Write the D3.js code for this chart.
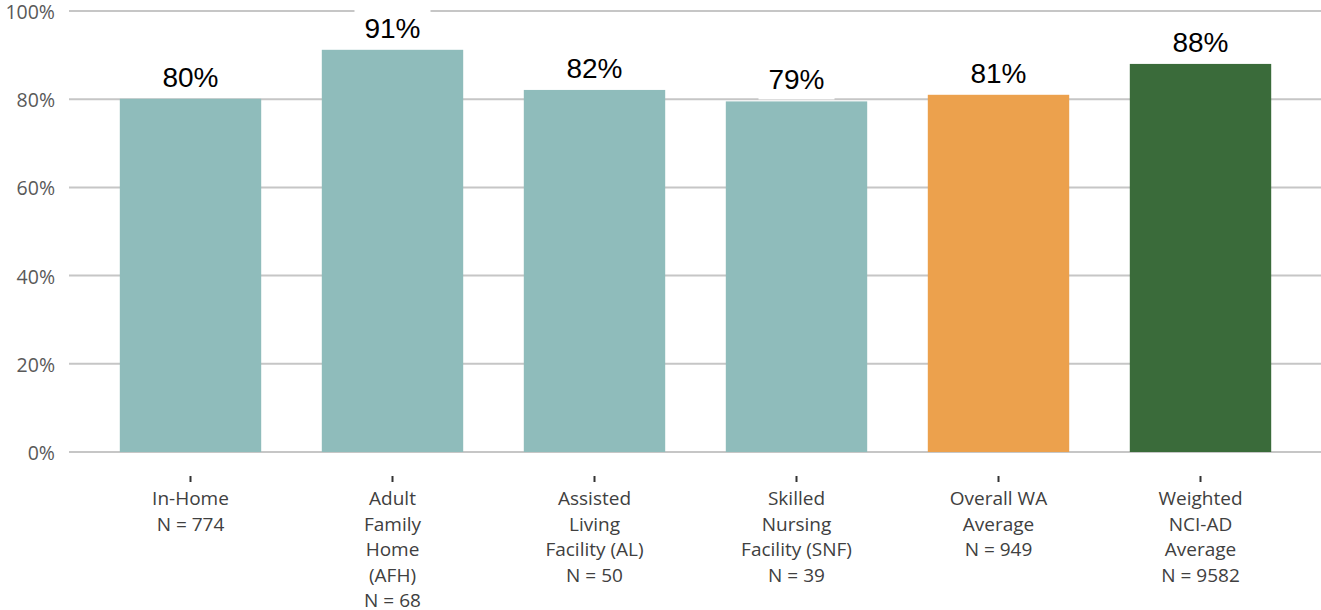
<!DOCTYPE html>
<html>
<head>
<meta charset="utf-8">
<script src="https://cdn.jsdelivr.net/npm/d3@7"></script>
<style>
  body { margin: 0; background: #fff; }
</style>
</head>
<body>
<script>
// chart data
const categories = ['In-Home', 'AFH', 'AL', 'SNF', 'WA', 'NCI']
const labelLines = [
    ['In-Home', 'N = 774'],
    ['Adult', 'Family', 'Home', '(AFH)', 'N = 68'],
    ['Assisted', 'Living', 'Facility (AL)', 'N = 50'],
    ['Skilled', 'Nursing', 'Facility (SNF)', 'N = 39'],
    ['Overall WA', 'Average', 'N = 949'],
    ['Weighted', 'NCI-AD', 'Average', 'N = 9582']
]
const values = [80.1, 91.2, 82.1, 79.5, 81.0, 88.0]
const valueLabels = ['80%', '91%', '82%', '79%', '81%', '88%']
const groups = ['setting', 'setting', 'setting', 'setting', 'state', 'national']
const yTicks = [0, 20, 40, 60, 80, 100]

const m = { width: 1321, height: 610 }

const svg = d3.select('body').append('svg')
    .attr('width', m.width)
    .attr('height', m.height)

const xScale = d3.scaleBand()
    .domain(categories)
    .range([89.5, 1301.5])
    .paddingInner(0.3)
    .paddingOuter(0.15)

const yScale = d3.scaleLinear()
    .domain([0, 100])
    .range([452, 11])

const color = d3.scaleOrdinal()
    .domain(['setting', 'state', 'national'])
    .range(['#8fbcbb', '#eca14d', '#3a6b3a'])

// gridlines + y labels
const yAxis = svg.append('g')
yAxis.selectAll('line')
    .data(yTicks)
    .enter()
    .append('line')
    .attr('x1', 69)
    .attr('x2', m.width)
    .attr('y1', d => yScale(d))
    .attr('y2', d => yScale(d))
    .attr('stroke', '#c6c6c6')
    .attr('stroke-width', 2)

yAxis.selectAll('text')
    .data(yTicks)
    .enter()
    .append('text')
    .attr('x', 55)
    .attr('y', d => yScale(d) + 8)
    .attr('text-anchor', 'end')
    .attr('font-family', 'Open Sans, sans-serif')
    .attr('font-size', 19.5)
    .attr('fill', '#595959')
    .text(d => d + '%')

const data = categories.map((c, i) => ({
    key: c, value: values[i], label: valueLabels[i], group: groups[i], lines: labelLines[i]
}))

// white boxes behind the value labels (they cut the gridlines)
svg.append('g').selectAll('rect')
    .data(data)
    .enter()
    .append('rect')
    .attr('x', d => xScale(d.key) + xScale.bandwidth() / 2 - 38)
    .attr('y', d => yScale(d.value) - 12 - 29)
    .attr('width', 76)
    .attr('height', 39)
    .attr('fill', '#fff')

// bars
svg.append('g').selectAll('rect')
    .data(data)
    .enter()
    .append('rect')
    .attr('x', d => xScale(d.key))
    .attr('y', d => yScale(d.value))
    .attr('width', xScale.bandwidth())
    .attr('height', d => yScale(0) - yScale(d.value))
    .attr('fill', d => color(d.group))

// value labels
svg.append('g').selectAll('text')
    .data(data)
    .enter()
    .append('text')
    .attr('x', d => xScale(d.key) + xScale.bandwidth() / 2)
    .attr('y', d => yScale(d.value) - 12)
    .attr('text-anchor', 'middle')
    .attr('font-family', 'Liberation Sans, Arial, sans-serif')
    .attr('font-size', 28)
    .attr('fill', '#000')
    .text(d => d.label)

// x ticks and category labels
const xAxis = svg.append('g')
xAxis.selectAll('line')
    .data(data)
    .enter()
    .append('line')
    .attr('x1', d => xScale(d.key) + xScale.bandwidth() / 2)
    .attr('x2', d => xScale(d.key) + xScale.bandwidth() / 2)
    .attr('y1', 476)
    .attr('y2', 482)
    .attr('stroke', '#333')
    .attr('stroke-width', 2)

const xLabel = xAxis.selectAll('text')
    .data(data)
    .enter()
    .append('text')
    .attr('text-anchor', 'middle')
    .attr('font-family', 'Open Sans, sans-serif')
    .attr('font-size', 19)
    .attr('fill', '#404040')

xLabel.selectAll('tspan')
    .data(d => d.lines.map(l => ({ l: l, x: xScale(d.key) + xScale.bandwidth() / 2 })))
    .enter()
    .append('tspan')
    .attr('x', d => d.x)
    .attr('y', (d, i) => 505 + i * 25.5)
    .text(d => d.l)
</script>
</body>
</html>
